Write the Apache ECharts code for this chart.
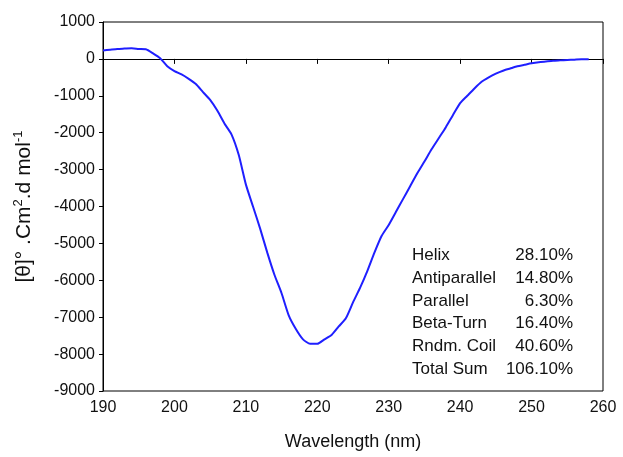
<!DOCTYPE html>
<html><head><meta charset="utf-8">
<script src="https://cdn.jsdelivr.net/npm/echarts@6/dist/echarts.min.js"></script>
<style>html,body{margin:0;padding:0;background:#fff}#c{width:623px;height:457px}</style>
</head><body><div id="c"></div>
<script>
const wavelengths = [];
for (let w = 190; w <= 258; w++) wavelengths.push(w);
const ellipticity = [230,250,270,280,290,270,260,150,20,-200,
 -330,-420,-540,-680,-900,-1110,-1400,-1750,-2050,-2600,
 -3400,-4000,-4600,-5250,-5850,-6350,-6950,-7320,-7600,-7720,
 -7720,-7600,-7480,-7250,-7030,-6600,-6200,-5750,-5250,-4800,
 -4500,-4150,-3800,-3450,-3100,-2780,-2450,-2150,-1850,-1520,
 -1200,-1000,-800,-620,-500,-400,-320,-260,-200,-160,
 -120,-90,-70,-50,-40,-30,-20,-10,-10];
const structLabels = ['Helix','Antiparallel','Parallel','Beta-Turn','Rndm. Coil','Total Sum'];
const structValues = ['28.10%','14.80%','6.30%','16.40%','40.60%','106.10%'];

const font = 'Liberation Sans, Arial, sans-serif';
const chart = echarts.init(document.getElementById('c'), null, {renderer:'canvas'});
const rowTop = 247, rowH = 22.7;
const graphics = [];
structLabels.forEach((l,i)=>{
  graphics.push({type:'text', left:412, top:rowTop+i*rowH, style:{text:l, font:'17px '+font, fill:'#111'}});
  graphics.push({type:'text', right:50, top:rowTop+i*rowH, style:{text:structValues[i], font:'17px '+font, fill:'#111', align:'right'}});
});
chart.setOption({
  animation:false,
  backgroundColor:'#fff',
  grid:{left:103, right:20, top:22, bottom:66, show:true, borderColor:'#000', borderWidth:1, containLabel:false, outerBoundsMode:'none'},
  xAxis:{type:'value', min:190, max:260, interval:10,
    name:'Wavelength (nm)', nameLocation:'middle', nameGap:42,
    nameTextStyle:{fontFamily:font, fontSize:18, color:'#111'},
    axisLine:{show:true, lineStyle:{color:'#000'}},
    axisTick:{show:true, inside:false, length:5, lineStyle:{color:'#000'}},
    axisLabel:{fontFamily:font, fontSize:16, color:'#111', margin:9},
    splitLine:{show:false}},
  yAxis:{type:'value', min:-9000, max:1000, interval:1000,
    name:'{n|[θ]° .Cm}{s|2}{n|.d mol}{s|-1}', nameLocation:'middle', nameGap:67, nameRotate:90,
    nameTextStyle:{fontFamily:font, fontSize:21, color:'#111',
      rich:{n:{fontFamily:font, fontSize:21, color:'#111'}, s:{fontFamily:font, fontSize:13, color:'#111', verticalAlign:'top', padding:[0,0,11,0]}}},
    axisLine:{show:true, lineStyle:{color:'#000'}},
    axisTick:{show:true, inside:false, length:4, lineStyle:{color:'#000'}},
    axisLabel:{fontFamily:font, fontSize:16, color:'#111', margin:8, formatter:v=>String(v)},
    splitLine:{show:false}},
  series:[{type:'line', data:wavelengths.map((w,i)=>[w, ellipticity[i]]),
    showSymbol:false, smooth:0.2, lineStyle:{color:'#1f1fff', width:2}}],
  graphic:graphics
});
</script></body></html>
